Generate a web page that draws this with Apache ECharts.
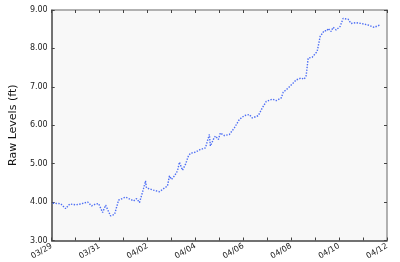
<!DOCTYPE html>
<html><head><meta charset="utf-8">
<script src="https://cdn.jsdelivr.net/npm/echarts@6/dist/echarts.min.js"></script>
<style>html,body{margin:0;padding:0;background:#fff}#c{width:400px;height:262px}</style>
</head><body><div id="c"></div>
<script>
const YEAR = 2015;
const times = ['03/29 01','03/29 09','03/29 14','03/29 18','03/30 00','03/30 01','03/30 05','03/30 12','03/30 16','03/30 20','03/30 23',
'03/31 03','03/31 06','03/31 11','03/31 15','03/31 19','04/01 02','04/01 07','04/01 10','04/01 13','04/01 16','04/01 20','04/01 22','04/01 23',
'04/02 06','04/02 12','04/02 15','04/02 20','04/02 22','04/03 00','04/03 03','04/03 06','04/03 08','04/03 11','04/03 14','04/03 17','04/03 19',
'04/04 00','04/04 05','04/04 10','04/04 11','04/04 14','04/04 15','04/04 18','04/04 20','04/04 23','04/05 01','04/05 05','04/05 10','04/05 15','04/05 20',
'04/06 01','04/06 06','04/06 09','04/06 15','04/06 19','04/06 23','04/07 05','04/07 09','04/07 14','04/07 16','04/07 21',
'04/08 02','04/08 05','04/08 10','04/08 13','04/08 15','04/08 17','04/08 21','04/09 02','04/09 05','04/09 09','04/09 12','04/09 13','04/09 16','04/09 18','04/09 21',
'04/10 01','04/10 04','04/10 09','04/10 12','04/10 17','04/10 22','04/11 05','04/11 11','04/11 13','04/11 17'];
const levels = [3.97,3.96,3.83,3.95,3.93,3.98,3.95,4.00,3.90,3.95,3.96,
3.73,3.92,3.64,3.68,4.05,4.13,4.07,4.03,4.09,3.99,4.35,4.55,4.37,
4.31,4.27,4.33,4.42,4.68,4.59,4.68,4.81,5.04,4.83,4.98,5.20,5.27,
5.30,5.37,5.41,5.37,5.76,5.46,5.63,5.72,5.63,5.80,5.73,5.76,5.93,6.15,
6.25,6.28,6.19,6.25,6.45,6.62,6.68,6.64,6.71,6.86,6.97,
7.10,7.18,7.23,7.20,7.29,7.75,7.77,7.92,8.31,8.46,8.46,8.52,8.44,8.55,8.48,
8.57,8.78,8.76,8.65,8.67,8.65,8.61,8.55,8.52,8.61];
const xStart = '03/29 00', xEnd = '04/12 00';
const yMin = 3, yMax = 9, yStep = 1;
const yTitle = 'Raw Levels (ft)';

const DAY = 86400000;
function toMs(s){const [md,h]=s.split(' ');const [m,d]=md.split('/').map(Number);return Date.UTC(YEAR,m-1,d,Number(h));}
const t0 = toMs(xStart), t1 = toMs(xEnd);
const pad = n => String(n).padStart(2,'0');
const fmtX = v => { const k = Math.round((v - t0)/DAY); if (k % 2) return ''; const d = new Date(v); return pad(d.getUTCMonth()+1)+'/'+pad(d.getUTCDate()); };
const dark = '#444', light = '#999';
const chart = echarts.init(document.getElementById('c'), null, {renderer:'canvas'});
chart.setOption({
  animation:false,
  backgroundColor:'#fff',
  grid:{left:42,right:13,top:10,bottom:21,show:true,backgroundColor:'#f8f8f8',borderWidth:0},
  xAxis:[{type:'value',min:t0,max:t1,interval:DAY,position:'bottom',
    axisLine:{lineStyle:{color:dark,width:1.5}},
    axisTick:{inside:true,length:3,lineStyle:{color:dark}},
    splitLine:{show:false},
    axisLabel:{formatter:fmtX,rotate:30,fontSize:8,color:'#222',fontFamily:'DejaVu Sans',margin:5,showMinLabel:true,showMaxLabel:true}},
   {type:'value',min:t0,max:t1,interval:DAY,position:'top',
    axisLine:{lineStyle:{color:light,width:1.5}},
    axisTick:{inside:true,length:3,lineStyle:{color:dark}},
    splitLine:{show:false},axisLabel:{show:false}}],
  yAxis:[{type:'value',min:yMin,max:yMax,interval:yStep,position:'left',
    name:yTitle,nameLocation:'middle',nameGap:25,nameTextStyle:{fontSize:11,color:'#111',fontFamily:'DejaVu Sans'},
    axisLine:{show:true,lineStyle:{color:dark,width:1.5}},
    axisTick:{show:true,inside:true,length:3,lineStyle:{color:dark}},
    splitLine:{show:false},
    axisLabel:{formatter:v=>v.toFixed(2),fontSize:8,color:'#222',fontFamily:'DejaVu Sans',margin:4}},
   {type:'value',min:yMin,max:yMax,interval:yStep,position:'right',
    axisLine:{show:true,lineStyle:{color:light,width:1.5}},
    axisTick:{show:true,inside:true,length:3,lineStyle:{color:dark}},
    splitLine:{show:false},axisLabel:{show:false}}],
  series:[{type:'line',xAxisIndex:0,yAxisIndex:0,showSymbol:false,
    data:times.map((t,i)=>[toMs(t),levels[i]]),
    lineStyle:{color:'#4d6ef5',width:1.4,type:'dotted'}}]
});
</script></body></html>
